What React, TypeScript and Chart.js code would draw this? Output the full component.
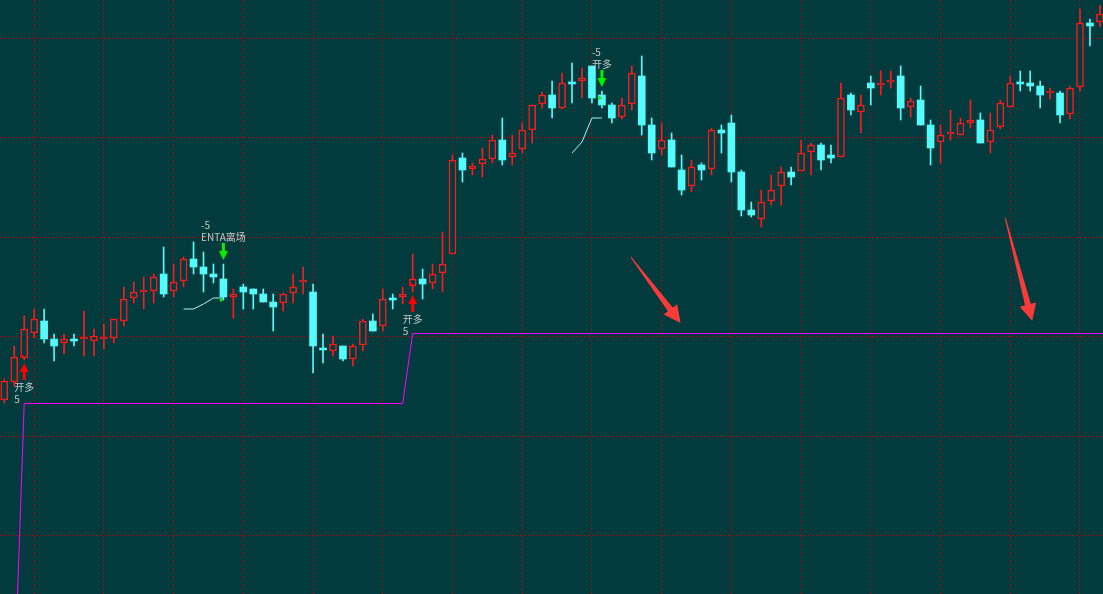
import React, { useEffect, useRef } from "react";
import { Chart, registerables } from "chart.js";

Chart.register(...registerables);

// ---- data (arbitrary price units) ----
const candleIndex: number[] = Array.from({ length: 111 }, (_, i) => i);

const openValues = [
  200, 218, 242, 267, 279, 261, 257, 261, 261, 259,
  261, 262, 279, 302, 308, 309, 326, 309, 319, 341,
  333, 326, 321, 303, 313, 311, 306, 298, 297, 307,
  318, 308, 251, 249, 254, 241, 255, 279, 274, 301,
  303, 314, 321, 317, 327, 346, 442, 431, 436, 441,
  460, 443, 451, 470, 496, 505, 492, 517, 519, 534,
  505, 495, 483, 496, 524, 475, 451, 460, 430, 414,
  435, 431, 470, 477, 428, 390, 381, 399, 414, 428,
  429, 448, 455, 445, 443, 505, 488, 517, 515, 518,
  524, 493, 500, 475, 458, 466, 465, 477, 480, 458,
  473, 493, 517, 517, 514, 507, 507, 486, 513, 577,
  578,
];
const highValues = [
  221, 254, 284, 291, 291, 266, 266, 266, 289, 271,
  276, 281, 313, 318, 323, 326, 353, 336, 343, 358,
  348, 336, 336, 311, 316, 311, 311, 306, 307, 326,
  333, 316, 266, 264, 254, 256, 281, 286, 311, 306,
  313, 346, 331, 336, 368, 445, 447, 437, 452, 465,
  482, 465, 477, 495, 508, 519, 527, 537, 532, 534,
  509, 497, 502, 534, 544, 482, 477, 467, 445, 440,
  437, 472, 475, 485, 430, 398, 410, 425, 433, 433,
  460, 457, 457, 455, 517, 507, 505, 524, 529, 529,
  534, 502, 514, 480, 475, 490, 482, 500, 487, 487,
  500, 524, 529, 529, 519, 512, 509, 514, 591, 581,
  595,
];
const lowValues = [
  197, 214, 240, 262, 257, 239, 246, 254, 244, 244,
  251, 257, 274, 297, 291, 297, 303, 303, 313, 326,
  308, 317, 300, 282, 291, 291, 298, 269, 289, 297,
  306, 227, 237, 244, 239, 234, 249, 269, 269, 291,
  296, 308, 301, 311, 308, 346, 418, 425, 423, 437,
  435, 435, 447, 457, 492, 482, 491, 497, 502, 497,
  492, 477, 481, 490, 465, 440, 445, 433, 405, 408,
  420, 425, 447, 418, 384, 383, 373, 395, 395, 415,
  429, 425, 430, 437, 443, 485, 467, 495, 505, 512,
  480, 483, 475, 435, 437, 460, 465, 472, 457, 447,
  471, 493, 509, 509, 492, 501, 477, 481, 509, 554,
  573,
];
const closeValues = [
  219, 243, 271, 281, 261, 254, 261, 259, 261, 264,
  261, 281, 301, 308, 308, 323, 306, 318, 341, 333,
  326, 323, 303, 306, 308, 306, 298, 293, 306, 313,
  318, 254, 250, 256, 241, 254, 279, 269, 301, 300,
  306, 321, 316, 326, 336, 440, 430, 434, 441, 460,
  440, 447, 470, 495, 505, 492, 517, 516, 522, 502,
  495, 482, 495, 527, 475, 447, 460, 433, 410, 433,
  430, 470, 467, 428, 390, 385, 398, 410, 428, 423,
  447, 455, 440, 442, 502, 490, 495, 512, 517, 518,
  492, 499, 475, 452, 465, 466, 477, 480, 457, 470,
  497, 517, 516, 514, 505, 507, 485, 512, 577, 574,
  586,
];

// position indicator line: [candle index, value]
const positionPoints: [number, number][] = [
  [1, -88], [2, 196.5], [40, 196.5], [41, 266.5], [110, 266.5], [111, 266.5],
];
// trailing stop segments: [candle index, value]
const trailSegments: [number, number][][] = [
  [[18, 291], [19, 291], [20, 296], [21, 302], [22, 302]],
  [[57, 447], [58, 458], [59, 482], [60, 482]],
];

// trade signals
const signalIndex = [2, 22, 41, 60];
const signalSide = ["buy", "sell", "buy", "sell"];
const signalLabel = ["开多", "ENTA离场", "开多", "开多"];
const signalQty = ["5", "-5", "5", "-5"];
const signalFill = [244, 300, 316, 502];

// hand-drawn markup arrows: [index, value] from -> to
const markupFrom: [number, number][] = [[62.9, 343], [100.5, 382]];
const markupTo: [number, number][] = [[67.9, 277], [103.2, 279]];

// grid positions
const xGridValues: number[] = [];
for (let v = 3; v <= 110; v += 7) xGridValues.push(v);
const yGridValues = [65, 164, 264, 363, 463, 562];

// ---- styles ----
const BG = "#013b3e";
const RED = "#ff1a1a";
const CYAN = "#54fcfc";
const GRID = "#9a0b0b";
const MAGENTA = "#ff00ff";
const TRAIL = "#a8f6f6";
const TEXT = "#c8c8c8";

const isUp = (i: number) => closeValues[i] >= openValues[i];

function drawSignalArrow(ctx: CanvasRenderingContext2D, cx: number, tipY: number, dir: 1 | -1, color: string) {
  const headL = 9, headW = 4.5, shaftW = 1.5, total = 17;
  const s = dir === 1 ? 1 : -1;
  ctx.fillStyle = color;
  ctx.beginPath();
  ctx.moveTo(cx, tipY);
  ctx.lineTo(cx + headW, tipY + s * headL);
  ctx.lineTo(cx + shaftW, tipY + s * headL);
  ctx.lineTo(cx + shaftW, tipY + s * total);
  ctx.lineTo(cx - shaftW, tipY + s * total);
  ctx.lineTo(cx - shaftW, tipY + s * headL);
  ctx.lineTo(cx - headW, tipY + s * headL);
  ctx.closePath();
  ctx.fill();
}

function drawMarkupArrow(ctx: CanvasRenderingContext2D, x1: number, y1: number, x2: number, y2: number) {
  const dx = x2 - x1, dy = y2 - y1;
  const len = Math.hypot(dx, dy);
  const ux = dx / len, uy = dy / len;
  const px = -uy, py = ux;
  const headLen = 17, headW = 8.5, shaftW = 3, tailW = 0.5;
  const bx = x2 - ux * headLen, by = y2 - uy * headLen;
  ctx.fillStyle = "#f83a3a";
  ctx.beginPath();
  ctx.moveTo(x1 + px * tailW, y1 + py * tailW);
  ctx.lineTo(bx + px * shaftW, by + py * shaftW);
  ctx.lineTo(bx + px * headW, by + py * headW);
  ctx.lineTo(x2, y2);
  ctx.lineTo(bx - px * headW, by - py * headW);
  ctx.lineTo(bx - px * shaftW, by - py * shaftW);
  ctx.lineTo(x1 - px * tailW, y1 - py * tailW);
  ctx.closePath();
  ctx.fill();
}

const backgroundPlugin = {
  id: "bgFill",
  beforeDraw(chart: any) {
    const { ctx, width, height } = chart;
    ctx.save();
    ctx.fillStyle = BG;
    ctx.fillRect(0, 0, width, height);
    ctx.restore();
  },
};

const annotationPlugin = {
  id: "annotations",
  afterDatasetsDraw(chart: any) {
    const { ctx } = chart;
    const x = chart.scales.x;
    const y = chart.scales.y;
    ctx.save();
    ctx.font = '10px "Noto Sans CJK SC", "DejaVu Sans", sans-serif';
    ctx.textBaseline = "middle";
    signalIndex.forEach((idx, k) => {
      const cx = x.getPixelForValue(idx);
      const label = signalLabel[k];
      const w = ctx.measureText(label).width;
      const left = cx - w / 2;
      if (signalSide[k] === "buy") {
        const tip = y.getPixelForValue(lowValues[idx]) + 3;
        drawSignalArrow(ctx, cx, tip, 1, "#ff0000");
        ctx.fillStyle = TEXT;
        ctx.fillText(label, left, tip + 24);
        ctx.fillText(signalQty[k], left, tip + 36);
      } else {
        const tip = y.getPixelForValue(highValues[idx]) - 4;
        drawSignalArrow(ctx, cx, tip, -1, "#00f000");
        ctx.fillStyle = TEXT;
        ctx.fillText(label, left, tip - 23);
        ctx.fillText(signalQty[k], left, tip - 35);
      }
    });
    markupFrom.forEach((from, k) => {
      const to = markupTo[k];
      drawMarkupArrow(
        ctx,
        x.getPixelForValue(from[0]), y.getPixelForValue(from[1]),
        x.getPixelForValue(to[0]), y.getPixelForValue(to[1])
      );
    });
    ctx.restore();
  },
};

export default function App() {
  const canvasRef = useRef<HTMLCanvasElement | null>(null);

  useEffect(() => {
    document.body.style.margin = "0";
    document.body.style.background = BG;
    const canvas = canvasRef.current;
    if (!canvas) return;

    const wickData = candleIndex.map((i) => ({ x: i, y: [lowValues[i], highValues[i]] }));
    const bodyData = candleIndex.map((i) => ({ x: i, y: [openValues[i], closeValues[i]] }));
    const posData = positionPoints.map(([i, v]) => ({ x: i, y: v }));
    const trailData: any[] = [];
    trailSegments.forEach((seg, s) => {
      if (s > 0) trailData.push({ x: seg[0][0] - 0.5, y: null });
      seg.forEach(([i, v]) => trailData.push({ x: i, y: v }));
    });
    const fillData = signalIndex.map((i, k) => ({ x: i - 0.22, y: signalFill[k] }));

    const chart = new Chart(canvas, {
      type: "bar",
      data: {
        datasets: [
          {
            type: "bar",
            data: wickData as any,
            backgroundColor: (c: any) => (isUp(c.dataIndex) ? RED : CYAN),
            barThickness: 1,
            grouped: false,
            order: 4,
          } as any,
          {
            type: "bar",
            data: bodyData as any,
            backgroundColor: (c: any) => (isUp(c.dataIndex) ? BG : CYAN),
            borderColor: (c: any) => (isUp(c.dataIndex) ? RED : CYAN),
            borderWidth: (c: any) => (isUp(c.dataIndex) ? 1.5 : 0),
            borderSkipped: false,
            barThickness: 7,
            minBarLength: 2,
            grouped: false,
            order: 3,
          } as any,
          {
            type: "line",
            data: posData as any,
            borderColor: MAGENTA,
            borderWidth: 1,
            pointRadius: 0,
            pointHoverRadius: 0,
            tension: 0,
            fill: false,
            order: 2,
          } as any,
          {
            type: "line",
            data: trailData,
            borderColor: TRAIL,
            borderWidth: 1,
            pointRadius: 0,
            pointHoverRadius: 0,
            tension: 0,
            spanGaps: false,
            fill: false,
            order: 1,
          } as any,
          {
            type: "scatter",
            data: fillData as any,
            pointStyle: "triangle",
            rotation: 90,
            pointRadius: 2.5,
            pointHoverRadius: 0,
            borderWidth: 0,
            backgroundColor: signalSide.map((s) => (s === "buy" ? "#ff0000" : "#00f000")),
            order: 0,
          } as any,
        ],
      },
      options: {
        animation: false,
        responsive: true,
        maintainAspectRatio: false,
        layout: { padding: 0, autoPadding: false },
        events: [],
        plugins: {
          legend: { display: false },
          tooltip: { enabled: false },
          title: { display: false },
        },
        scales: {
          x: {
            type: "linear",
            min: -0.43,
            max: 110.31,
            offset: false,
            ticks: { display: false },
            grid: { color: GRID, lineWidth: 1, drawTicks: false, tickLength: 0, offset: false },
            border: { display: false, dash: [2, 2] },
            afterBuildTicks: (s: any) => {
              s.ticks = xGridValues.map((v) => ({ value: v }));
            },
          },
          y: {
            type: "linear",
            min: 6,
            max: 600,
            ticks: { display: false },
            grid: { color: GRID, lineWidth: 1, drawTicks: false, tickLength: 0 },
            border: { display: false, dash: [2, 2] },
            afterBuildTicks: (s: any) => {
              s.ticks = yGridValues.map((v) => ({ value: v }));
            },
          },
        },
      } as any,
      plugins: [backgroundPlugin, annotationPlugin],
    });

    return () => chart.destroy();
  }, []);

  return (
    <div style={{ position: "fixed", left: 0, top: 0, width: "100vw", height: "100vh", background: BG }}>
      <canvas ref={canvasRef} />
    </div>
  );
}
